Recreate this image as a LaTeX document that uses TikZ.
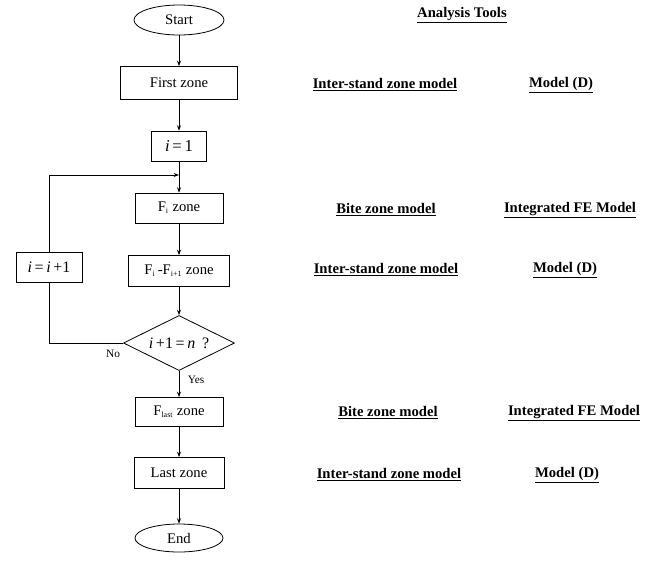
\documentclass[tikz,border=0pt]{standalone}
\usepackage{fontspec}
\setmainfont{Liberation Serif}
\usetikzlibrary{shapes.geometric,arrows.meta}
\tikzset{
  zonebox/.style={draw=black, line width=0.6pt, inner sep=0pt, font=\fontsize{11}{13}\selectfont},
  terminal/.style={ellipse, draw=black, line width=0.6pt, inner sep=0pt, font=\fontsize{11}{13}\selectfont},
  decision/.style={diamond, draw=black, line width=0.6pt, inner sep=0pt, aspect=2, font=\fontsize{11}{13}\selectfont},
  flow/.style={line width=0.5pt, draw=black, -{Stealth[length=4pt,width=3pt]}},
  link/.style={line width=0.5pt, draw=black},
  tool/.style={font=\bfseries\fontsize{11}{13}\selectfont},
  answer/.style={font=\fontsize{8.5}{10}\selectfont},
}
\newcommand{\sub}[1]{\textsubscript{\fontsize{6}{7}\selectfont #1}}

\begin{document}
\begin{tikzpicture}[x=0.75pt, y=-0.75pt]
\useasboundingbox (0,0) rectangle (653,562);
% flow chart
\node[terminal, minimum width=67.5pt, minimum height=22.5pt] (start) at (179,20) {Start};
\node[zonebox, minimum width=87.8pt, minimum height=24.8pt] (first) at (179,83) {First zone};
\node[zonebox, minimum width=41.3pt, minimum height=22.5pt, font=\fontsize{12.5}{15}\selectfont] (ione) at (179,146) {\textit{i}\,=\,1};
\node[zonebox, minimum width=66pt, minimum height=22.5pt] (fi) at (179,208) {F\sub{i} zone};
\node[zonebox, minimum width=75.8pt, minimum height=23.3pt] (fifj) at (179,271) {F\sub{i}\,-F\sub{i+1} zone};
\node[zonebox, minimum width=49.5pt, minimum height=22.5pt, font=\fontsize{12}{14}\selectfont] (inc) at (49,267) {\textit{i}\,=\,\textit{i}\,+1};
\node[decision, minimum width=83.3pt, minimum height=41.3pt, font=\fontsize{12}{14}\selectfont] (last?) at (179,343) {\textit{i}\,+1\,=\,\textit{n}\, ?};
\node[zonebox, minimum width=66pt, minimum height=21.8pt] (flast) at (179,412) {F\sub{last} zone};
\node[zonebox, minimum width=67.5pt, minimum height=23.3pt] (lastz) at (179,473) {Last zone};
\node[terminal, minimum width=66pt, minimum height=21pt] (end) at (179,538) {End};
\coordinate (join) at (179,175);
\node[answer] (no) at (113,354) {No};
\node[answer] (yes) at (196,380) {Yes};

\draw[flow] (start) -- (first);
\draw[flow] (first) -- (ione);
\draw[flow] (ione) -- (fi);
\draw[flow] (fi) -- (fifj);
\draw[flow] (fifj) -- (last?);
\draw[link] (last?.west) -| (inc.south);
\draw[flow] (inc.north) |- (join);
\draw[flow] (last?) -- (flast);
\draw[flow] (flast) -- (lastz);
\draw[flow] (lastz) -- (end);

% analysis tools
\node[tool] (head) at (462,15) {\underline{Analysis Tools}};
\node[tool] (t1) at (385,85) {\underline{Inter-stand zone model}};
\node[tool] (m1) at (561,85) {\underline{Model (D)}};
\node[tool] (t2) at (386,210) {\underline{Bite zone model}};
\node[tool] (m2) at (570,210) {\underline{Integrated FE Model}};
\node[tool] (t3) at (386,270) {\underline{Inter-stand zone model}};
\node[tool] (m3) at (565,270) {\underline{Model (D)}};
\node[tool] (t4) at (388,413) {\underline{Bite zone model}};
\node[tool] (m4) at (574,413) {\underline{Integrated FE Model}};
\node[tool] (t5) at (389,475) {\underline{Inter-stand zone model}};
\node[tool] (m5) at (567,475) {\underline{Model (D)}};
\end{tikzpicture}
\end{document}
